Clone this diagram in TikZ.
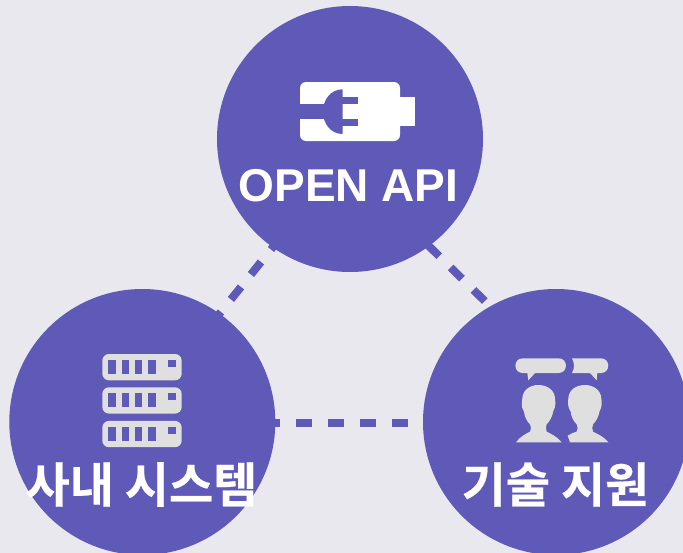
\documentclass[tikz,border=0pt]{standalone}
\usepackage{fontspec}
\newfontfamily\krfont[BoldFont={Noto Sans CJK KR Bold},BoldFeatures={FakeBold=0.4}]{Noto Sans CJK KR}
\newfontfamily\lafont[BoldFont={Liberation Sans Bold}]{Liberation Sans}
\definecolor{bgc}{HTML}{E9E8EF}
\definecolor{disc}{HTML}{5F59B8}
\definecolor{icon}{HTML}{DFDFDF}
\tikzset{
  hub/.style={circle,fill=disc,minimum size=199.5pt,inner sep=0pt,outer sep=0pt},
  link/.style={draw=disc,line width=6pt,dash pattern=on 12pt off 12pt},
  lbl/.style={text=white,inner sep=0pt,font=\krfont\bfseries\fontsize{36}{40}\selectfont},
  lbllat/.style={text=white,inner sep=0pt,font=\lafont\bfseries\fontsize{34.5}{40}\selectfont}
}
\begin{document}
\begin{tikzpicture}[x=0.75pt,y=-0.75pt]
\useasboundingbox[fill=bgc] (0,0) rectangle (683,553);
\begin{scope}
\clip (0,0) rectangle (683,553);
\node[hub] (top) at (350,139) {};
\node[hub] (left) at (142.3,422) {};
\node[hub] (right) at (556,422) {};
\end{scope}
\coordinate (tl) at (274.1,245.6);
\coordinate (lt) at (218.5,315);
\coordinate (tr) at (427.8,245);
\coordinate (rt) at (490,306.2);
\coordinate (lr) at (275,422.5);
\coordinate (rl) at (423,422.5);
\draw[link,dash phase=8.25pt] (tl) -- (lt);
\draw[link] (tr) -- (rt);
\draw[link,dash phase=8.25pt] (lr) -- (rl);
% plug icon
\fill[white,rounded corners=4.5pt] (300,82) rectangle (400,141);
\fill[white] (400,96.7) rectangle (415,126);
\fill[disc] (299,104) rectangle (326,118.7);
\fill[disc] (342.7,89.3) .. controls (331,89.3) and (323,99.3) .. (323,111.6) .. controls (323,124) and (331,134) .. (342.7,134) -- cycle;
\fill[disc] (342,96.7) rectangle (357.7,104);
\fill[disc] (342,118.7) rectangle (357.7,126);
% server icon
\foreach \r in {354,387.3,420.9}{
  \fill[icon,rounded corners=5pt] (102.3,\r) rectangle (181.7,\r+26.3);
  \foreach \s in {108.3,121.7,135,148.3}
    \fill[disc] (\s,\r+6) rectangle (\s+7.3,\r+20);
  \fill[disc] (168.3,\r+6) rectangle (175.7,\r+13);
}
% people icon
\begin{scope}[shift={(500,345)},x=0.25pt,y=-0.25pt]
\fill[icon] (68,40) -- (176,40) .. controls (205,40) and (205,84) .. (176,84) -- (105,84) -- (85,106) -- (82,84) -- (68,84) .. controls (39,84) and (39,40) .. (68,40) -- cycle;
\fill[icon] (216,40) -- (303,40) .. controls (332,40) and (332,84) .. (303,84) -- (292,84) -- (290,106) -- (270,84) -- (216,84) .. controls (224,70) and (224,54) .. (216,40) -- cycle;
\fill[icon] (48,292) .. controls (60,275) and (78,266) .. (90,260) .. controls (94,252) and (94,246) .. (90,238) .. controls (80,228) and (74,216) .. (72,200) .. controls (62,185) and (66,172) .. (67,160) .. controls (68,135) and (90,120) .. (115,120) .. controls (145,120) and (164,138) .. (165,160) .. controls (166,172) and (168,185) .. (160,198) .. controls (157,214) and (150,228) .. (140,238) .. controls (137,246) and (137,252) .. (140,260) .. controls (152,266) and (172,275) .. (185,292) -- cycle;
\fill[icon] (210,292) -- (203,272) .. controls (212,266) and (222,262) .. (230,260) .. controls (234,252) and (234,246) .. (230,238) .. controls (220,228) and (214,216) .. (212,200) .. controls (202,185) and (204,172) .. (205,160) .. controls (206,135) and (228,120) .. (255,120) .. controls (283,120) and (303,138) .. (304,160) .. controls (305,172) and (307,185) .. (299,198) .. controls (296,214) and (289,228) .. (279,238) .. controls (276,246) and (276,252) .. (279,260) .. controls (291,266) and (312,275) .. (325,292) -- cycle;
\end{scope}
% labels
\node[lbllat] (topt) at (348.5,185.3) {OPEN API};
\node[lbl] (leftt) at (141.5,484.5) {사내 시스템};
\node[lbl] (rightt) at (555.5,484.5) {기술 지원};
\end{tikzpicture}
\end{document}
